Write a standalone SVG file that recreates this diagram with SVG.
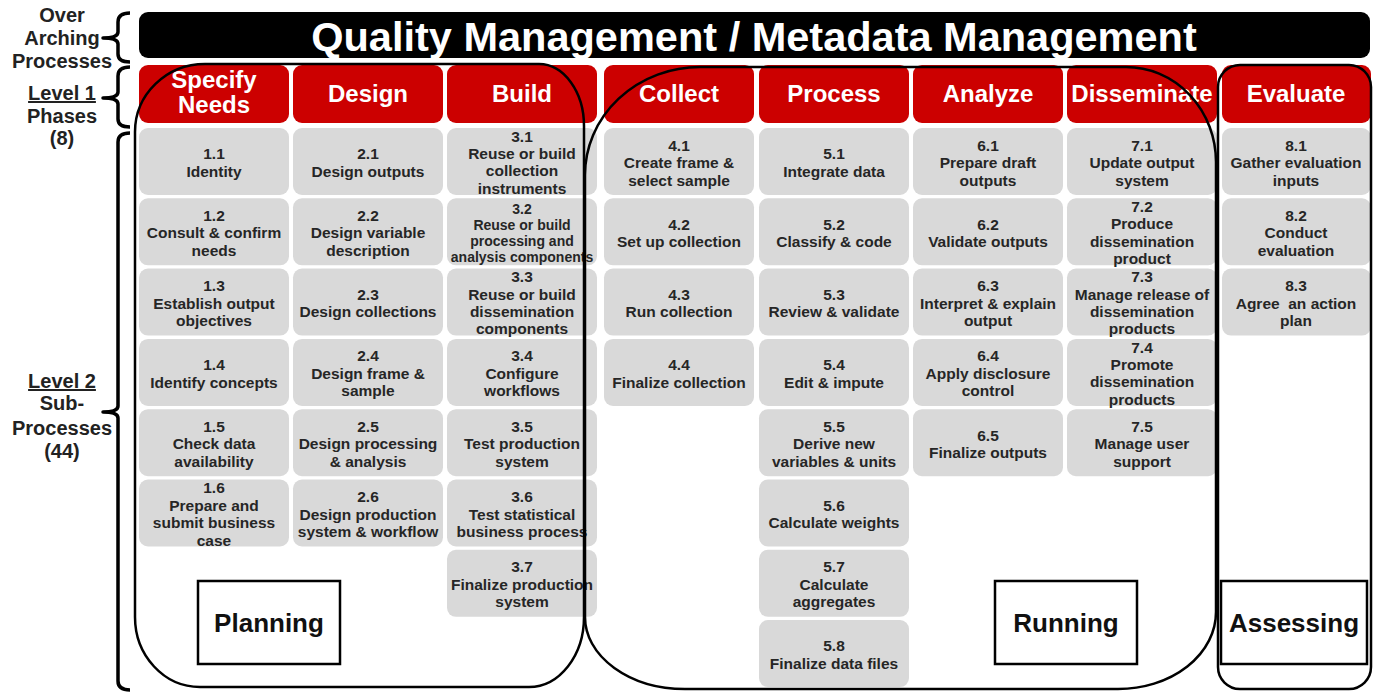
<svg xmlns="http://www.w3.org/2000/svg" width="1376" height="692" viewBox="0 0 1376 692">
<style>
.bar{fill:#000}
.hdr{fill:#CC0000}
.box{fill:#D9D9D9}
.ht{font-family:"Liberation Sans",Arial,sans-serif;font-weight:bold;font-size:24px;fill:#fff;text-anchor:middle}
.bt{font-family:"Liberation Sans",Arial,sans-serif;font-weight:bold;font-size:15.5px;fill:#262626;text-anchor:middle}
.bs{font-size:14px}
.lt{font-family:"Liberation Sans",Arial,sans-serif;font-weight:bold;font-size:20px;fill:#222;text-anchor:middle}
.gt{font-family:"Liberation Sans",Arial,sans-serif;font-weight:bold;font-size:26px;fill:#111;text-anchor:middle}
.ol{fill:none;stroke:#000;stroke-width:2.5}
.lb{fill:#fff;stroke:#000;stroke-width:2.5}
.br{fill:none;stroke:#000;stroke-width:3.5;stroke-linejoin:round;stroke-linecap:butt}
</style>
<rect width="1376" height="692" fill="#fff"/>

<g id="title">
<rect class="bar" x="139" y="12" width="1231" height="46" rx="9"/>
<text x="754" y="51" font-family="Liberation Sans,Arial,sans-serif" font-weight="bold" font-size="41.5" fill="#fff" text-anchor="middle">Quality Management / Metadata Management</text>
</g>

<g id="phases">
<g id="ph1"><rect class="hdr" x="139" y="65" width="150" height="58" rx="9"/><text class="ht" x="214" y="88">Specify</text><text class="ht" x="214" y="113">Needs</text></g>
<g id="ph2"><rect class="hdr" x="293" y="65" width="150" height="58" rx="9"/><text class="ht" x="368" y="102">Design</text></g>
<g id="ph3"><rect class="hdr" x="447" y="65" width="150" height="58" rx="9"/><text class="ht" x="522" y="102">Build</text></g>
<g id="ph4"><rect class="hdr" x="604" y="65" width="150" height="58" rx="9"/><text class="ht" x="679" y="102">Collect</text></g>
<g id="ph5"><rect class="hdr" x="759" y="65" width="150" height="58" rx="9"/><text class="ht" x="834" y="102">Process</text></g>
<g id="ph6"><rect class="hdr" x="913" y="65" width="150" height="58" rx="9"/><text class="ht" x="988" y="102">Analyze</text></g>
<g id="ph7"><rect class="hdr" x="1067" y="65" width="150" height="58" rx="9"/><text class="ht" x="1142" y="102">Disseminate</text></g>
<g id="ph8"><rect class="hdr" x="1222" y="65" width="149" height="58" rx="9"/><text class="ht" x="1296" y="102">Evaluate</text></g>
</g>

<g id="subprocesses">
<!-- column 1 -->
<g id="s1_1"><rect class="box" x="139" y="128" width="150" height="67" rx="9"/><text class="bt" y="159.3"><tspan x="214">1.1</tspan><tspan x="214" dy="17.5">Identity</tspan></text></g>
<g id="s1_2"><rect class="box" x="139" y="198.3" width="150" height="67" rx="9"/><text class="bt" y="220.8"><tspan x="214">1.2</tspan><tspan x="214" dy="17.5">Consult &amp; confirm</tspan><tspan x="214" dy="17.5">needs</tspan></text></g>
<g id="s1_3"><rect class="box" x="139" y="268.6" width="150" height="67" rx="9"/><text class="bt" y="291.1"><tspan x="214">1.3</tspan><tspan x="214" dy="17.5">Establish output</tspan><tspan x="214" dy="17.5">objectives</tspan></text></g>
<g id="s1_4"><rect class="box" x="139" y="338.9" width="150" height="67" rx="9"/><text class="bt" y="370.2"><tspan x="214">1.4</tspan><tspan x="214" dy="17.5">Identify concepts</tspan></text></g>
<g id="s1_5"><rect class="box" x="139" y="409.2" width="150" height="67" rx="9"/><text class="bt" y="431.7"><tspan x="214">1.5</tspan><tspan x="214" dy="17.5">Check data</tspan><tspan x="214" dy="17.5">availability</tspan></text></g>
<g id="s1_6"><rect class="box" x="139" y="479.5" width="150" height="67" rx="9"/><text class="bt" y="493.3"><tspan x="214">1.6</tspan><tspan x="214" dy="17.5">Prepare and</tspan><tspan x="214" dy="17.5">submit business</tspan><tspan x="214" dy="17.5">case</tspan></text></g>
<!-- column 2 -->
<g id="s2_1"><rect class="box" x="293" y="128" width="150" height="67" rx="9"/><text class="bt" y="159.3"><tspan x="368">2.1</tspan><tspan x="368" dy="17.5">Design outputs</tspan></text></g>
<g id="s2_2"><rect class="box" x="293" y="198.3" width="150" height="67" rx="9"/><text class="bt" y="220.8"><tspan x="368">2.2</tspan><tspan x="368" dy="17.5">Design variable</tspan><tspan x="368" dy="17.5">description</tspan></text></g>
<g id="s2_3"><rect class="box" x="293" y="268.6" width="150" height="67" rx="9"/><text class="bt" y="299.9"><tspan x="368">2.3</tspan><tspan x="368" dy="17.5">Design collections</tspan></text></g>
<g id="s2_4"><rect class="box" x="293" y="338.9" width="150" height="67" rx="9"/><text class="bt" y="361.4"><tspan x="368">2.4</tspan><tspan x="368" dy="17.5">Design frame &amp;</tspan><tspan x="368" dy="17.5">sample</tspan></text></g>
<g id="s2_5"><rect class="box" x="293" y="409.2" width="150" height="67" rx="9"/><text class="bt" y="431.7"><tspan x="368">2.5</tspan><tspan x="368" dy="17.5">Design processing</tspan><tspan x="368" dy="17.5">&amp; analysis</tspan></text></g>
<g id="s2_6"><rect class="box" x="293" y="479.5" width="150" height="67" rx="9"/><text class="bt" y="502"><tspan x="368">2.6</tspan><tspan x="368" dy="17.5">Design production</tspan><tspan x="368" dy="17.5">system &amp; workflow</tspan></text></g>
<!-- column 3 -->
<g id="s3_1"><rect class="box" x="447" y="128" width="150" height="67" rx="9"/><text class="bt" y="141.8"><tspan x="522">3.1</tspan><tspan x="522" dy="17.3">Reuse or build</tspan><tspan x="522" dy="17.3">collection</tspan><tspan x="522" dy="17.3">instruments</tspan></text></g>
<g id="s3_2"><rect class="box" x="447" y="198.3" width="150" height="67" rx="9"/><text class="bt bs" y="213.5"><tspan x="522">3.2</tspan><tspan x="522" dy="16">Reuse or build</tspan><tspan x="522" dy="16">processing and</tspan><tspan x="522" dy="16">analysis components</tspan></text></g>
<g id="s3_3"><rect class="box" x="447" y="268.6" width="150" height="67" rx="9"/><text class="bt" y="282.4"><tspan x="522">3.3</tspan><tspan x="522" dy="17.3">Reuse or build</tspan><tspan x="522" dy="17.3">dissemination</tspan><tspan x="522" dy="17.3">components</tspan></text></g>
<g id="s3_4"><rect class="box" x="447" y="338.9" width="150" height="67" rx="9"/><text class="bt" y="361.4"><tspan x="522">3.4</tspan><tspan x="522" dy="17.5">Configure</tspan><tspan x="522" dy="17.5">workflows</tspan></text></g>
<g id="s3_5"><rect class="box" x="447" y="409.2" width="150" height="67" rx="9"/><text class="bt" y="431.7"><tspan x="522">3.5</tspan><tspan x="522" dy="17.5">Test production</tspan><tspan x="522" dy="17.5">system</tspan></text></g>
<g id="s3_6"><rect class="box" x="447" y="479.5" width="150" height="67" rx="9"/><text class="bt" y="502"><tspan x="522">3.6</tspan><tspan x="522" dy="17.5">Test statistical</tspan><tspan x="522" dy="17.5">business process</tspan></text></g>
<g id="s3_7"><rect class="box" x="447" y="549.8" width="150" height="67" rx="9"/><text class="bt" y="572.3"><tspan x="522">3.7</tspan><tspan x="522" dy="17.5">Finalize production</tspan><tspan x="522" dy="17.5">system</tspan></text></g>
<!-- column 4 -->
<g id="s4_1"><rect class="box" x="604" y="128" width="150" height="67" rx="9"/><text class="bt" y="150.5"><tspan x="679">4.1</tspan><tspan x="679" dy="17.5">Create frame &amp;</tspan><tspan x="679" dy="17.5">select sample</tspan></text></g>
<g id="s4_2"><rect class="box" x="604" y="198.3" width="150" height="67" rx="9"/><text class="bt" y="229.6"><tspan x="679">4.2</tspan><tspan x="679" dy="17.5">Set up collection</tspan></text></g>
<g id="s4_3"><rect class="box" x="604" y="268.6" width="150" height="67" rx="9"/><text class="bt" y="299.9"><tspan x="679">4.3</tspan><tspan x="679" dy="17.5">Run collection</tspan></text></g>
<g id="s4_4"><rect class="box" x="604" y="338.9" width="150" height="67" rx="9"/><text class="bt" y="370.2"><tspan x="679">4.4</tspan><tspan x="679" dy="17.5">Finalize collection</tspan></text></g>
<!-- column 5 -->
<g id="s5_1"><rect class="box" x="759" y="128" width="150" height="67" rx="9"/><text class="bt" y="159.3"><tspan x="834">5.1</tspan><tspan x="834" dy="17.5">Integrate data</tspan></text></g>
<g id="s5_2"><rect class="box" x="759" y="198.3" width="150" height="67" rx="9"/><text class="bt" y="229.6"><tspan x="834">5.2</tspan><tspan x="834" dy="17.5">Classify &amp; code</tspan></text></g>
<g id="s5_3"><rect class="box" x="759" y="268.6" width="150" height="67" rx="9"/><text class="bt" y="299.9"><tspan x="834">5.3</tspan><tspan x="834" dy="17.5">Review &amp; validate</tspan></text></g>
<g id="s5_4"><rect class="box" x="759" y="338.9" width="150" height="67" rx="9"/><text class="bt" y="370.2"><tspan x="834">5.4</tspan><tspan x="834" dy="17.5">Edit &amp; impute</tspan></text></g>
<g id="s5_5"><rect class="box" x="759" y="409.2" width="150" height="67" rx="9"/><text class="bt" y="431.7"><tspan x="834">5.5</tspan><tspan x="834" dy="17.5">Derive new</tspan><tspan x="834" dy="17.5">variables &amp; units</tspan></text></g>
<g id="s5_6"><rect class="box" x="759" y="479.5" width="150" height="67" rx="9"/><text class="bt" y="510.8"><tspan x="834">5.6</tspan><tspan x="834" dy="17.5">Calculate weights</tspan></text></g>
<g id="s5_7"><rect class="box" x="759" y="549.8" width="150" height="67" rx="9"/><text class="bt" y="572.3"><tspan x="834">5.7</tspan><tspan x="834" dy="17.5">Calculate</tspan><tspan x="834" dy="17.5">aggregates</tspan></text></g>
<g id="s5_8"><rect class="box" x="759" y="620.1" width="150" height="67" rx="9"/><text class="bt" y="651.4"><tspan x="834">5.8</tspan><tspan x="834" dy="17.5">Finalize data files</tspan></text></g>
<!-- column 6 -->
<g id="s6_1"><rect class="box" x="913" y="128" width="150" height="67" rx="9"/><text class="bt" y="150.5"><tspan x="988">6.1</tspan><tspan x="988" dy="17.5">Prepare draft</tspan><tspan x="988" dy="17.5">outputs</tspan></text></g>
<g id="s6_2"><rect class="box" x="913" y="198.3" width="150" height="67" rx="9"/><text class="bt" y="229.6"><tspan x="988">6.2</tspan><tspan x="988" dy="17.5">Validate outputs</tspan></text></g>
<g id="s6_3"><rect class="box" x="913" y="268.6" width="150" height="67" rx="9"/><text class="bt" y="291.1"><tspan x="988">6.3</tspan><tspan x="988" dy="17.5">Interpret &amp; explain</tspan><tspan x="988" dy="17.5">output</tspan></text></g>
<g id="s6_4"><rect class="box" x="913" y="338.9" width="150" height="67" rx="9"/><text class="bt" y="361.4"><tspan x="988">6.4</tspan><tspan x="988" dy="17.5">Apply disclosure</tspan><tspan x="988" dy="17.5">control</tspan></text></g>
<g id="s6_5"><rect class="box" x="913" y="409.2" width="150" height="67" rx="9"/><text class="bt" y="440.5"><tspan x="988">6.5</tspan><tspan x="988" dy="17.5">Finalize outputs</tspan></text></g>
<!-- column 7 -->
<g id="s7_1"><rect class="box" x="1067" y="128" width="150" height="67" rx="9"/><text class="bt" y="150.5"><tspan x="1142">7.1</tspan><tspan x="1142" dy="17.5">Update output</tspan><tspan x="1142" dy="17.5">system</tspan></text></g>
<g id="s7_2"><rect class="box" x="1067" y="198.3" width="150" height="67" rx="9"/><text class="bt" y="212.1"><tspan x="1142">7.2</tspan><tspan x="1142" dy="17.3">Produce</tspan><tspan x="1142" dy="17.3">dissemination</tspan><tspan x="1142" dy="17.3">product</tspan></text></g>
<g id="s7_3"><rect class="box" x="1067" y="268.6" width="150" height="67" rx="9"/><text class="bt" y="282.4"><tspan x="1142">7.3</tspan><tspan x="1142" dy="17.3">Manage release of</tspan><tspan x="1142" dy="17.3">dissemination</tspan><tspan x="1142" dy="17.3">products</tspan></text></g>
<g id="s7_4"><rect class="box" x="1067" y="338.9" width="150" height="67" rx="9"/><text class="bt" y="352.7"><tspan x="1142">7.4</tspan><tspan x="1142" dy="17.3">Promote</tspan><tspan x="1142" dy="17.3">dissemination</tspan><tspan x="1142" dy="17.3">products</tspan></text></g>
<g id="s7_5"><rect class="box" x="1067" y="409.2" width="150" height="67" rx="9"/><text class="bt" y="431.7"><tspan x="1142">7.5</tspan><tspan x="1142" dy="17.5">Manage user</tspan><tspan x="1142" dy="17.5">support</tspan></text></g>
<!-- column 8 -->
<g id="s8_1"><rect class="box" x="1222" y="128" width="149" height="67" rx="9"/><text class="bt" y="150.5"><tspan x="1296">8.1</tspan><tspan x="1296" dy="17.5">Gather evaluation</tspan><tspan x="1296" dy="17.5">inputs</tspan></text></g>
<g id="s8_2"><rect class="box" x="1222" y="198.3" width="149" height="67" rx="9"/><text class="bt" y="220.8"><tspan x="1296">8.2</tspan><tspan x="1296" dy="17.5">Conduct</tspan><tspan x="1296" dy="17.5">evaluation</tspan></text></g>
<g id="s8_3"><rect class="box" x="1222" y="268.6" width="149" height="67" rx="9"/><text class="bt" y="291.1" xml:space="preserve"><tspan x="1296">8.3</tspan><tspan x="1296" dy="17.5">Agree  an action</tspan><tspan x="1296" dy="17.5">plan</tspan></text></g>
</g>

<g id="groups">
<g id="planning">
<path class="ol" d="M205,64 H539 A45,62 0 0 1 584,126 V617 A55,70 0 0 1 529,687 H200 A65,70 0 0 1 135,617 V132 A70,68 0 0 1 205,64 Z"/>
<rect class="lb" x="198" y="581" width="142" height="83"/>
<text class="gt" x="269" y="632">Planning</text>
</g>
<g id="running">
<path class="ol" d="M700,67 H1126 A90,95 0 0 1 1216,162 V612 A98,77 0 0 1 1118,689 H685 A100,72 0 0 1 585,617 V175 A115,108 0 0 1 700,67 Z"/>
<rect class="lb" x="995" y="581" width="142" height="83"/>
<text class="gt" x="1066" y="632">Running</text>
</g>
<g id="assessing">
<rect class="ol" x="1218" y="65" width="153" height="624" rx="22"/>
<rect class="lb" x="1221" y="581" width="146" height="83"/>
<text class="gt" x="1294" y="632">Assessing</text>
</g>
</g>

<g id="connectors">
<path class="br" d="M130,13 Q118,13 118,22 V32 Q118,38 103,38 Q118,38 118,44 V54 Q118,62 130,62"/>
<path class="br" d="M130,67 Q118,67 118,76 V92 Q118,98 103,98 Q118,98 118,104 V119 Q118,127 130,127"/>
<path class="br" d="M130,133 Q118,133 118,142 V406 Q118,412 103,412 Q118,412 118,418 V681 Q118,690 130,690"/>
</g>

<g id="levels">
<text class="lt" x="62" y="22">Over</text>
<text class="lt" x="62" y="45">Arching</text>
<text class="lt" x="62" y="68">Processes</text>
<text class="lt" x="62" y="100" text-decoration="underline">Level 1</text>
<text class="lt" x="62" y="123">Phases</text>
<text class="lt" x="62" y="145">(8)</text>
<text class="lt" x="62" y="388" text-decoration="underline">Level 2</text>
<text class="lt" x="62" y="410">Sub-</text>
<text class="lt" x="62" y="435">Processes</text>
<text class="lt" x="62" y="458">(44)</text>
</g>
</svg>
